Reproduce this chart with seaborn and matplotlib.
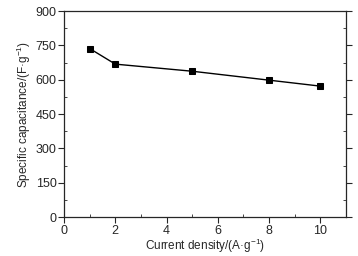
import matplotlib
matplotlib.use("Agg")
import matplotlib.pyplot as plt
import seaborn as sns
import pandas as pd
from matplotlib.ticker import MultipleLocator

current_density = [1, 2, 5, 8, 10]
capacitance = [736, 668, 637, 598, 572]

df = pd.DataFrame({"x": current_density, "y": capacitance})

sns.set_style("ticks")
plt.rcParams["font.family"] = ["Liberation Sans", "DejaVu Sans"]
plt.rcParams["mathtext.fontset"] = "custom"
plt.rcParams["mathtext.rm"] = "Liberation Sans"

fig = plt.figure(figsize=(3.58, 2.56), dpi=100)
ax = fig.add_axes([0.179, 0.152, 0.787, 0.805])

sns.lineplot(data=df, x="x", y="y", ax=ax, color="black", linewidth=1,
             marker="s", markersize=5, markeredgecolor="black")

ax.set_xlim(0, 11)
ax.set_ylim(0, 900)
ax.xaxis.set_major_locator(MultipleLocator(2))
ax.xaxis.set_minor_locator(MultipleLocator(1))
ax.yaxis.set_major_locator(MultipleLocator(150))
ax.yaxis.set_minor_locator(MultipleLocator(75))

ax.tick_params(which="major", direction="out", length=4, width=0.8, labelsize=9, pad=1.5)
ax.tick_params(which="minor", direction="in", length=2, width=0.6)
ax.tick_params(axis="y", which="both", right=True, labelright=False)

for s in ax.spines.values():
    s.set_linewidth(0.9)
    s.set_visible(True)

ax.set_xlabel("Current density/(A·g$^{\\mathrm{-1}}$)", fontsize=8.5, labelpad=0)
ax.set_ylabel("Specific capacitance/(F·g$^{\\mathrm{-1}}$)", fontsize=8.5, labelpad=2)

fig.savefig("out.png", dpi=100)
